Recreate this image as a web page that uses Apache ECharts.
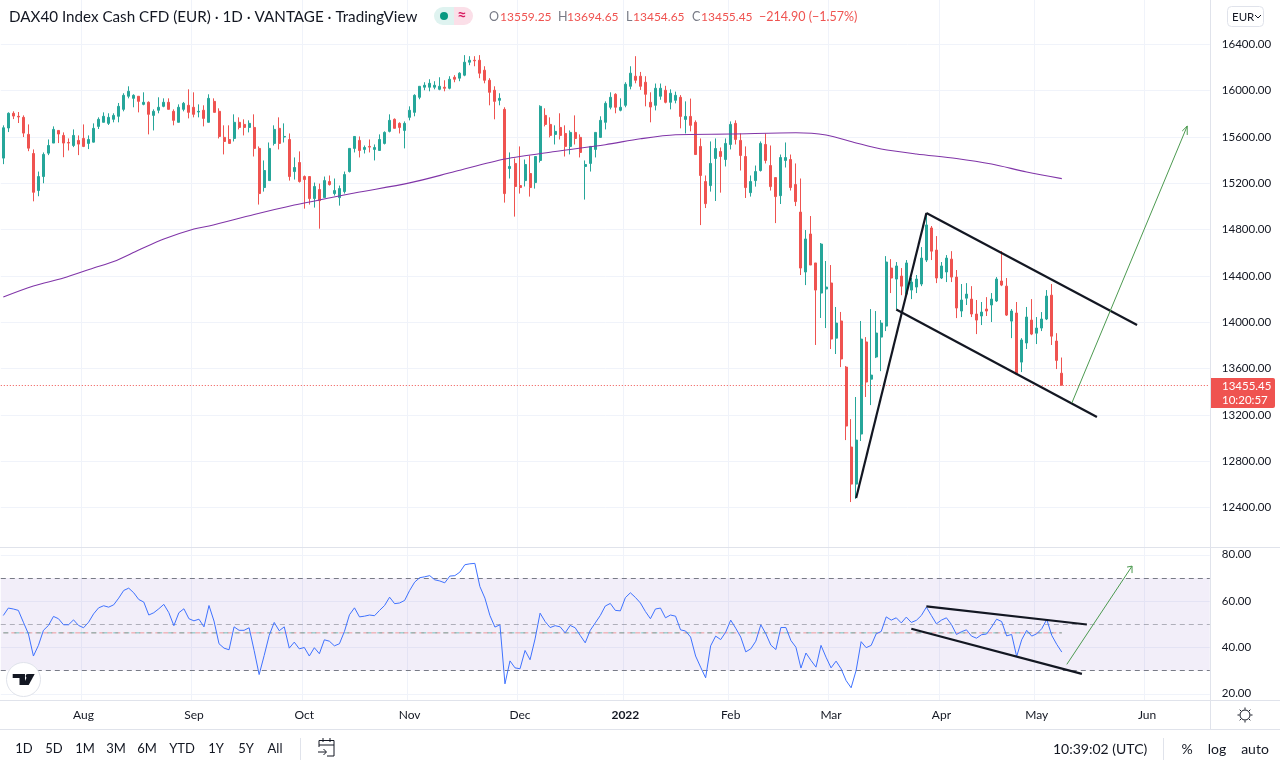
<!DOCTYPE html>
<html>
<head>
<meta charset="utf-8">
<style>html,body{margin:0;padding:0;background:#fff}#c{width:1280px;height:768px}</style>
<script src="https://cdn.jsdelivr.net/npm/echarts@6/dist/echarts.min.js"></script>
</head>
<body>
<div id="c"></div>
<script>
const barCount = 241;
const categories = Array.from({length: barCount}, (_, i) => i);
const monthIndex = [16, 38, 60, 81, 103, 124, 145, 165, 187, 206, 228];
const monthNames = ['Aug', 'Sep', 'Oct', 'Nov', 'Dec', '2022', 'Feb', 'Mar', 'Apr', 'May', 'Jun'];
const priceTicks = [12400, 12800, 13200, 13600, 14000, 14400, 14800, 15200, 15600, 16000, 16400];
const rsiTicks = [20, 40, 60, 80];

const opens = [15416,15676,15803,15777,15768,15621,15456,15136,15257,15459,
15546,15655,15612,15551,15525,15569,15586,15543,15554,15690,
15725,15716,15751,15777,15837,15950,15932,15950,15880,15898,
15785,15829,15863,15898,15820,15725,15837,15872,15855,15814,
15829,15725,15906,15820,15595,15577,15586,15725,15707,15681,
15681,15500,15162,15222,15543,15673,15598,15577,15300,15378,
15257,15257,15067,15145,15075,15214,15110,15075,15127,15300,
15500,15569,15491,15517,15491,15482,15543,15647,15751,15716,
15655,15768,15811,15941,16028,16028,16028,16010,16028,16019,
16114,16106,16132,16244,16261,16261,16175,16088,16002,15915,
15837,15326,15370,15179,15222,15283,15205,15396,15785,15707,
15621,15681,15629,15517,15638,15595,15344,15370,15491,15595,
15725,15855,15967,15829,15872,16036,16123,16123,16071,15898,
15872,15950,16002,15898,15915,15941,15750,15776,15725,15517,
15214,15179,15413,15473,15404,15534,15716,15569,15430,15118,
15222,15309,15534,15352,15248,15092,15396,15404,15188,14950,
14433,14761,14511,14251,14286,14338,13862,14010,13612,12922,
12602,13034,13829,13508,13699,13871,13966,14467,14372,14398,
14242,14277,14303,14329,14536,14813,14622,14381,14433,14544,
14389,14096,14207,14199,14070,14053,14113,14148,14183,14355,
14311,14009,14079,13655,13820,14018,13905,13949,14027,14233,
13837,13559.25];
const closes = [15678,15803,15779,15771,15632,15502,15121,15257,15448,15525,
15664,15624,15546,15546,15612,15537,15517,15577,15673,15751,
15777,15768,15785,15863,15958,15993,15958,15906,15898,15794,
15820,15855,15898,15837,15742,15855,15889,15811,15794,15820,
15759,15932,15811,15603,15560,15543,15725,15681,15681,15716,
15500,15110,15309,15500,15664,15543,15603,15257,15335,15214,
15231,15067,15171,15049,15222,15188,15136,15153,15274,15500,
15603,15482,15508,15511,15508,15577,15638,15742,15673,15681,
15716,15829,15958,16036,16045,16062,16045,16036,16019,16097,
16097,16149,16244,16261,16256,16149,16088,15984,15906,15932,
15110,15344,15171,15162,15361,15162,15430,15863,15707,15612,
15647,15612,15517,15638,15586,15465,15361,15517,15638,15742,
15889,15941,15855,15855,16054,16149,16088,16036,15967,15857,
16019,16019,15898,15976,15958,15776,15776,15699,15447,15266,
15023,15370,15499,15430,15543,15707,15577,15439,15162,15214,
15300,15543,15396,15170,15084,15421,15421,15162,15041,14467,
14718,14493,14277,14674,14303,13854,13992,13682,13103,12602,
12982,13854,13483,13543,13906,13992,14519,14381,14485,14311,
14511,14346,14372,14553,14839,14613,14381,14485,14553,14389,
14122,14191,14242,14070,14018,14087,14096,14199,14372,14320,
14061,14096,13551,13846,14044,13897,13949,14027,14225,13879,
13670,13455.45];
const lows = [15364,15641,15753,15719,15598,15476,15043,15087,15199,15442,
15546,15546,15424,15482,15511,15442,15511,15494,15551,15667,
15725,15702,15725,15725,15820,15932,15855,15811,15872,15621,
15655,15803,15855,15837,15699,15725,15820,15759,15768,15768,
15690,15725,15811,15586,15448,15543,15560,15664,15612,15638,
15430,15015,15127,15222,15525,15491,15551,15222,15231,15205,
14980,15015,14989,14807,15075,15179,15093,15006,15110,15292,
15465,15422,15456,15465,15396,15482,15534,15638,15673,15629,
15500,15742,15777,15924,16002,15993,16010,16002,15993,16010,
16071,16080,16123,16218,16209,16106,16062,15872,15751,15872,
15032,15240,14911,15110,15171,15084,15153,15378,15690,15595,
15534,15577,15430,15448,15534,15422,15058,15300,15422,15595,
15664,15837,15803,15820,15855,16010,16062,16005,15863,15725,
15828,15920,15889,15837,15889,15673,15629,15647,15447,14838,
14985,15127,15046,15118,15344,15491,15534,15309,15072,15084,
15170,15300,15370,15136,14855,15020,15335,15136,15002,14407,
14320,14493,13803,14036,13949,13768,13725,13612,12982,12447,
12474,12974,13354,13284,13690,13577,13923,14251,14113,14233,
14242,14199,14251,14311,14519,14536,14337,14372,14346,14346,
14035,14044,14148,14044,13897,13975,14053,14001,14174,14311,
14053,13862,13543,13569,13768,13888,13811,13923,14018,13803,
13595,13454.65];
const highs = [15699,15811,15820,15814,15785,15707,15491,15300,15465,15577,
15690,15655,15638,15586,15664,15612,15707,15612,15716,15768,
15811,15803,15803,15892,15976,16036,15967,15950,15984,15906,
15837,15941,15932,15932,15837,15880,15901,16010,15984,15880,
15872,15967,15932,15846,15699,15699,15794,15768,15751,15742,
15794,15517,15396,15551,15699,15768,15716,15629,15422,15474,
15266,15257,15205,15196,15257,15266,15240,15179,15300,15500,
15603,15603,15525,15577,15534,15621,15647,15794,15759,15725,
15733,15863,15967,16036,16071,16097,16080,16114,16088,16123,
16132,16157,16305,16296,16296,16305,16209,16106,16036,15976,
15855,15465,15413,15517,15404,15439,15430,15872,15846,15768,
15699,15803,15699,15655,15785,15621,15396,15517,15638,15777,
15906,15984,15976,15932,16071,16209,16296,16160,16123,15984,
16060,16060,16040,16010,15990,15960,15906,15930,15742,15586,
15266,15560,15586,15508,15586,15733,15742,15629,15517,15266,
15352,15560,15629,15525,15248,15447,15551,15447,15370,15240,
14795,14916,14511,14683,14528,14493,14131,14088,13621,13163,
13354,14010,13871,14113,14096,14018,14570,14544,14519,14467,
14536,14381,14407,14648,14941,14830,14743,14519,14579,14613,
14450,14329,14337,14311,14191,14174,14216,14251,14389,14613,
14381,14113,14174,13862,14131,14199,14044,14087,14277,14329,
13905,13694.65];
const rsiValues = [53.8,57.0,56.6,56.0,50.9,45.9,36.3,40.9,47.4,49.5,
53.4,52.4,49.8,49.8,51.9,49.5,48.5,50.9,54.5,57.1,
58.0,57.4,58.4,61.3,64.6,65.6,63.6,60.7,59.6,54.0,
55.0,56.7,58.6,55.0,49.4,55.0,56.7,52.4,51.5,52.2,
48.9,58.1,51.4,41.6,39.7,39.0,48.9,47.4,47.4,48.5,
38.7,28.3,36.5,45.2,50.8,47.2,48.9,39.7,42.3,39.4,
40.0,36.3,39.9,37.3,43.3,42.7,40.7,41.6,46.9,54.1,
57.1,53.2,53.5,54.0,53.7,56.0,58.1,61.7,58.9,59.2,
60.3,64.6,68.2,70.1,70.5,71.0,69.2,68.7,67.9,70.8,
71.0,72.5,75.7,76.1,76.3,66.3,61.3,53.8,48.8,49.8,
24.3,34.2,31.2,30.8,38.7,34.7,43.7,54.8,51.2,48.6,
49.4,48.9,46.3,49.5,48.5,45.2,42.0,47.4,50.6,53.8,
57.9,59.0,56.0,55.8,61.5,63.6,61.6,59.2,55.5,52.4,
56.6,57.0,52.8,54.0,53.5,47.6,47.1,44.5,36.3,31.5,
26.9,40.7,44.9,43.4,46.6,51.8,48.3,44.5,38.1,39.4,
42.7,49.8,45.9,41.0,39.1,48.6,48.6,43.0,40.1,31.1,
37.6,34.4,31.5,40.9,35.8,31.2,34.1,30.8,25.7,22.6,
30.1,42.5,39.9,40.9,45.9,46.9,53.2,51.8,52.8,50.6,
53.1,50.8,51.7,53.8,57.4,53.8,50.2,51.8,52.8,49.9,
45.6,46.8,47.6,44.9,44.0,45.5,45.8,48.8,52.2,51.2,
45.0,45.6,36.1,43.3,47.4,44.9,45.9,48.1,52.1,45.2,
41.3,38.0];
const maIndex = [0,6,12,18,22,27,32,38,41,50,58,63,70,81,90,100,110,120,127,134,145,158,164,170,175,182,190,197,204,211];
const maValues = [14217,14312,14381,14468,14523,14622,14718,14804,14830,14929,15011,15054,15115,15202,15300,15408,15473,15532,15583,15618,15624,15635,15615,15547,15495,15452,15413,15365,15296,15239];

const lastPrice = 13455.45;
const rsiLast = 46.3;
const poleLine = [[170, 12482], [184, 14942]];
const upperChannel = [[184, 14942], [226, 13975]];
const lowerChannel = [[178, 14109], [218, 13181]];
const priceArrow = [[213, 13302], [236, 15693]];
const priceArrowHead = [[235, 15650], [236, 15693], [236, 15616]];
const rsiUpper = [[184, 57.7], [216, 49.9]];
const rsiLower = [[181, 48.1], [215, 28.6]];
const rsiArrow = [[212, 32.7], [225, 75.1]];
const rsiArrowHead = [[224, 74.7], [225, 75.1], [225, 72.1]];

const FONT = 'Lato, "Open Sans", sans-serif';
const UP = '#26a69a', DOWN = '#ef5350', INK = '#131722', RULE = '#e0e3eb', SOFT = '#f0f3fa';

function drawing(data, color, width, xi, yi, extra) {
  return Object.assign({
    type: 'line', data, xAxisIndex: xi, yAxisIndex: yi, symbol: 'none', silent: true,
    animation: false, z: 10, clip: false, lineStyle: {color, width}
  }, extra || {});
}
function text(x, y, t, fontSize, fill, align, fontWeight) {
  return {type: 'text', x, y, silent: true, z: 50,
    style: {text: t, fontSize, fill, fontFamily: FONT, align: align || 'left', verticalAlign: 'middle', fontWeight: fontWeight || 'normal'}};
}
function rule(x1, y1, x2, y2, c, w) {
  return {type: 'line', silent: true, z: 46, shape: {x1, y1, x2, y2}, style: {stroke: c || RULE, lineWidth: w || 1}};
}
function stroke(points) {
  return {type: 'polyline', z: 46, silent: true, shape: {points}, style: {stroke: INK, fill: null, lineWidth: 1}};
}
function solid(points) {
  return {type: 'polygon', z: 46, silent: true, shape: {points}, style: {fill: INK}};
}

const ranges = ['1D', '5D', '1M', '3M', '6M', 'YTD', '1Y', '5Y', 'All'];
const rangeX = [24, 54, 85, 116, 147, 182, 216, 246, 275];

const graphics = [
  rule(1210.5, 0, 1210.5, 730), rule(0, 547.5, 1280, 547.5), rule(0, 700.5, 1280, 700.5), rule(0, 729.5, 1280, 729.5),
  rule(300.5, 738, 300.5, 760), rule(1163.5, 738, 1163.5, 760),
  text(9, 17, 'DAX40 Index Cash CFD (EUR) · 1D · VANTAGE · TradingView', 15.2, INK),
  {type: 'rect', z: 45, silent: true, shape: {x: 434, y: 7, width: 20, height: 18, r: [9, 0, 0, 9]}, style: {fill: '#dff3f0'}},
  {type: 'rect', z: 45, silent: true, shape: {x: 454, y: 7, width: 19, height: 18, r: [0, 9, 9, 0]}, style: {fill: '#fbdfe8'}},
  {type: 'circle', z: 46, silent: true, shape: {cx: 444, cy: 16, r: 4}, style: {fill: '#089981'}},
  text(462, 15, '≈', 16, '#d81b60', 'center', 'bold'),
  text(489, 17, 'O', 12.5, '#787b86'), text(500, 17, '13559.25', 12, DOWN),
  text(558, 17, 'H', 12.5, '#787b86'), text(567, 17, '13694.65', 12, DOWN),
  text(626, 17, 'L', 12.5, '#787b86'), text(633, 17, '13454.65', 12, DOWN),
  text(692, 17, 'C', 12.5, '#787b86'), text(701, 17, '13455.45', 12, DOWN),
  text(759, 17, '−214.90 (−1.57%)', 12.5, DOWN),
  {type: 'rect', z: 45, silent: true, shape: {x: 1227.5, y: 6.5, width: 36, height: 20, r: 4}, style: {fill: '#fff', stroke: RULE}},
  text(1232, 17, 'EUR', 11.5, INK),
  stroke([[1255, 15], [1258, 18], [1261, 15]]),
  {type: 'rect', z: 45, silent: true, shape: {x: 1211, y: 378, width: 64, height: 30, r: [0, 2, 2, 0]}, style: {fill: DOWN}},
  text(1222, 386, '13455.45', 11.5, '#fff'), text(1222, 400, '10:20:57', 11.5, '#fff'),
  {type: 'circle', z: 45, silent: true, shape: {cx: 23.5, cy: 679.5, r: 17}, style: {fill: '#fff', stroke: RULE}},
  solid([[12.7, 674], [25, 674], [25, 685], [19.5, 685], [19.5, 678], [12.7, 678]]),
  solid([[34.7, 674], [28.7, 685], [23.1, 685], [28.3, 674]]),
  {type: 'circle', z: 46, silent: true, shape: {cx: 27.6, cy: 676, r: 2}, style: {fill: INK}},
  {type: 'circle', z: 46, silent: true, shape: {cx: 1245, cy: 715, r: 5}, style: {fill: '#fff', stroke: INK}},
  rule(1245, 707.5, 1245, 709.5, INK), rule(1245, 720.5, 1245, 722.5, INK), rule(1237.5, 715, 1239.5, 715, INK), rule(1250.5, 715, 1252.5, 715, INK),
  rule(1239.7, 709.7, 1241.1, 711.1, INK), rule(1248.9, 718.9, 1250.3, 720.3, INK), rule(1239.7, 720.3, 1241.1, 718.9, INK), rule(1248.9, 711.1, 1250.3, 709.7, INK),
  stroke([[319, 747], [319, 740.5], [334, 740.5], [334, 756], [327, 756]]),
  rule(319, 745, 334, 745, INK), rule(323, 738, 323, 742, INK), rule(330, 738, 330, 742, INK),
  rule(318, 752, 326, 752, INK), stroke([[323.5, 749], [326.5, 752], [323.5, 755]]),
  text(1053, 749, '10:39:02 (UTC)', 14, INK),
  text(1187, 749, '%', 14, INK, 'center'), text(1217, 749, 'log', 14, INK, 'center'), text(1255, 749, 'auto', 14, INK, 'center')
];
ranges.forEach((r, i) => graphics.push(text(rangeX[i], 749, r, 13, INK, 'center')));

const splitStyle = {show: true, lineStyle: {color: SOFT, width: 1}};

const option = {
  animation: false,
  backgroundColor: '#fff',
  textStyle: {fontFamily: FONT},
  grid: [
    {left: 0.8, top: 0, width: 1209, height: 547},
    {left: 0.8, top: 548, width: 1209, height: 152}
  ],
  xAxis: [
    {type: 'category', gridIndex: 0, data: categories, boundaryGap: true,
      axisLine: {show: false}, axisLabel: {show: false},
      axisTick: {show: false, alignWithLabel: true, customValues: monthIndex}, splitLine: splitStyle},
    {type: 'category', gridIndex: 1, data: categories, boundaryGap: true,
      axisLine: {show: false},
      axisTick: {show: false, alignWithLabel: true, customValues: monthIndex}, splitLine: splitStyle,
      axisLabel: {show: true, customValues: monthIndex, color: INK, fontSize: 12, margin: 9, fontFamily: FONT, hideOverlap: false,
        formatter: v => {
          const n = monthNames[monthIndex.indexOf(Number(v))];
          return n === '2022' ? '{b|2022}' : n;
        },
        rich: {b: {fontWeight: 'bold', fontSize: 12, color: INK, fontFamily: FONT}}}}
  ],
  yAxis: [
    {type: 'value', gridIndex: 0, position: 'right', min: 12059, max: 16781,
      axisLine: {show: false}, axisTick: {show: false, customValues: priceTicks}, splitLine: splitStyle,
      axisLabel: {customValues: priceTicks, color: INK, fontSize: 11.5, margin: 12, fontFamily: FONT, formatter: v => v.toFixed(2)}},
    {type: 'value', gridIndex: 1, position: 'right', min: 17.32, max: 82.93,
      axisLine: {show: false}, axisTick: {show: false, customValues: rsiTicks}, splitLine: splitStyle,
      axisLabel: {customValues: rsiTicks, color: INK, fontSize: 11.5, margin: 12, fontFamily: FONT, formatter: v => v.toFixed(2)}}
  ],
  series: [
    {type: 'candlestick', name: 'DAX40', xAxisIndex: 0, yAxisIndex: 0, barWidth: 2.5, z: 3, silent: true, animation: false,
      data: opens.map((o, i) => [o, closes[i], lows[i], highs[i]]),
      itemStyle: {color: UP, color0: DOWN, borderColor: UP, borderColor0: DOWN, borderWidth: 1},
      markLine: {silent: true, symbol: 'none', animation: false, label: {show: false},
        lineStyle: {color: DOWN, type: [1, 2], width: 1}, data: [{yAxis: lastPrice}]}},
    drawing(maIndex.map((x, i) => [x, maValues[i]]), '#8035a8', 1.1, 0, 0, {z: 5, smooth: 0.3}),
    drawing(poleLine, INK, 2.2, 0, 0),
    drawing(upperChannel, INK, 2.2, 0, 0),
    drawing(lowerChannel, INK, 2.2, 0, 0),
    drawing(priceArrow, '#4c9a50', 1, 0, 0),
    drawing(priceArrowHead, '#4c9a50', 1, 0, 0),
    {type: 'line', name: 'RSI', xAxisIndex: 1, yAxisIndex: 1, data: rsiValues, symbol: 'none', silent: true, animation: false, z: 6,
      lineStyle: {color: '#3f72ff', width: 1},
      markArea: {silent: true, animation: false, itemStyle: {color: 'rgba(126,87,194,0.1)'}, data: [[{yAxis: 30}, {yAxis: 70}]]},
      markLine: {silent: true, symbol: 'none', animation: false, label: {show: false}, data: [
        {yAxis: 70, lineStyle: {color: '#787b86', type: [5, 4], width: 1}},
        {yAxis: 50, lineStyle: {color: 'rgba(120,123,134,0.55)', type: [5, 4], width: 1}},
        {yAxis: 30, lineStyle: {color: '#787b86', type: [5, 4], width: 1}}
      ]}},
    drawing([[0, rsiLast], [211, rsiLast]], 'rgba(239,83,80,0.55)', 1, 1, 1, {z: 4, lineStyle: {color: 'rgba(239,83,80,0.55)', width: 1, type: [5, 3]}}),
    drawing([[0, rsiLast], [211, rsiLast]], 'rgba(38,166,154,0.6)', 1, 1, 1, {z: 4, lineStyle: {color: 'rgba(38,166,154,0.6)', width: 1, type: [5, 6]}}),
    drawing(rsiUpper, INK, 2.2, 1, 1),
    drawing(rsiLower, INK, 2.2, 1, 1),
    drawing(rsiArrow, '#4c9a50', 1, 1, 1),
    drawing(rsiArrowHead, '#4c9a50', 1, 1, 1)
  ],
  graphic: {elements: graphics}
};
const chart = echarts.init(document.getElementById('c'), null, {renderer: 'canvas', width: 1280, height: 768});
chart.setOption(option);
</script>
</body>
</html>
